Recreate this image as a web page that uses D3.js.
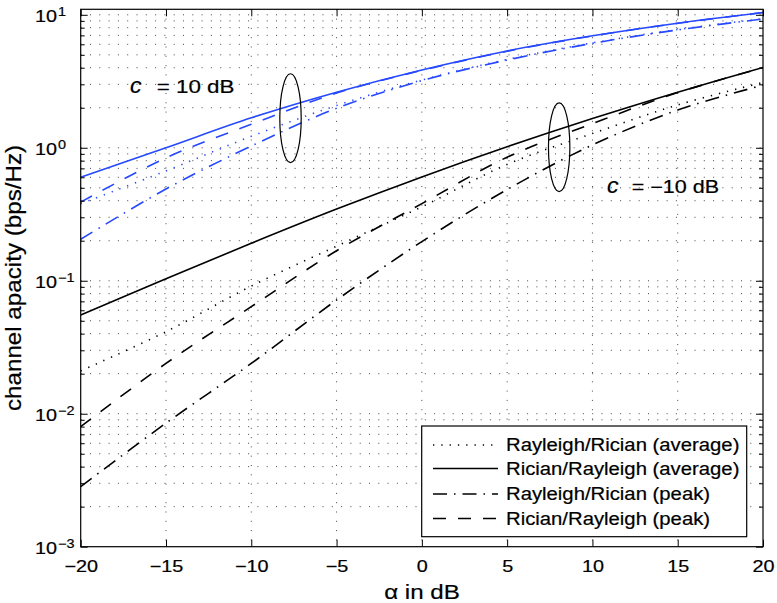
<!DOCTYPE html>
<html>
<head>
<meta charset="utf-8">
<script src="https://cdn.jsdelivr.net/npm/d3@7"></script>
<style>
  body { margin: 0; background: #fff; }
  text { font-family: "Liberation Sans", Arial, Helvetica, sans-serif; fill: #000; stroke: #000; stroke-width: 0.2px; }
</style>
</head>
<body>
<div id="viz"></div>
<script>
var alphaDb = [-20, -15, -10, -5, 0, 5, 10, 15, 20];

// c = 10 dB (blue)
var hiRayRicAvg  = [0.38, 0.67, 1.22, 2.08, 3.23, 4.62, 6.15, 7.75, 9.35];
var hiRicRayAvg  = [0.60, 1.0, 1.68, 2.62, 3.85, 5.35, 6.95, 8.65, 10.4];
var hiRayRicPeak = [0.205, 0.49, 1.03, 1.98, 3.2, 4.57, 6.1, 7.7, 9.3];
var hiRicRayPeak = [0.39, 0.84, 1.50, 2.58, 3.82, 5.32, 6.93, 8.63, 10.4];

// c = -10 dB (black)
var loRayRicAvg  = [0.021, 0.0414, 0.0912, 0.182, 0.36, 0.75, 1.28, 2.1, 3.1];
var loRicRayAvg  = [0.0552, 0.1035, 0.1914, 0.346, 0.604, 1.018, 1.66, 2.62, 4.02];
var loRayRicPeak = [0.00283, 0.0085, 0.0239, 0.0716, 0.197, 0.485, 1.05, 1.92, 2.96];
var loRicRayPeak = [0.008, 0.0239, 0.0638, 0.168, 0.38, 0.85, 1.52, 2.6, 4.0];

var legendNames = ["Rayleigh/Rician (average)", "Rician/Rayleigh (average)",
                   "Rayleigh/Rician (peak)", "Rician/Rayleigh (peak)"];
var xTicks = [-20, -15, -10, -5, 0, 5, 10, 15, 20];
var yTickExp = [-3, -2, -1, 0, 1];

var width = 777, height = 603,
    margin = {top: 9.3, right: 14, bottom: 56.3, left: 80.7},
    pw = width - margin.left - margin.right,
    ph = height - margin.top - margin.bottom;

var blue = "#2648ff";
var dashes = ["1.3,7", null, "14,7,1.5,7", "13,12"];   // same order as legendNames

var svg = d3.select("#viz").append("svg")
  .attr("width", width).attr("height", height);

var plot = svg.append("g")
  .attr("transform", `translate(${margin.left},${margin.top})`);

var x = d3.scaleLinear().domain([-20, 20]).range([0, pw]);
var y = d3.scaleLog().domain([1e-3, 11]).range([ph, 0]);

// log minor values
var majorY = yTickExp.map(e => Math.pow(10, e));
var minorY = [];
yTickExp.slice(0, -1).forEach(e => {
  for (var j = 2; j <= 9; j++) minorY.push(j * Math.pow(10, e));
});

// grid
var grid = plot.append("g").attr("stroke", "#333").attr("stroke-width", 0.9)
  .attr("stroke-dasharray", "1,8.3");
grid.selectAll(".hg").data(minorY.concat(majorY.slice(1)))
  .enter().append("line")
  .attr("x1", 0).attr("x2", pw)
  .attr("y1", d => y(d)).attr("y2", d => y(d));
grid.selectAll(".vg").data(xTicks.slice(1, -1))
  .enter().append("line")
  .attr("y1", 0).attr("y2", ph)
  .attr("x1", d => x(d)).attr("x2", d => x(d));

// curves
svg.append("clipPath").attr("id", "clip")
  .append("rect").attr("width", pw).attr("height", ph);

var line = d3.line()
  .x((d, i) => x(alphaDb[i]))
  .y(d => y(d))
  .curve(d3.curveCatmullRom.alpha(0.5));

var curves = [
  {vals: hiRayRicAvg, color: blue, k: 0},
  {vals: hiRicRayAvg, color: blue, k: 1},
  {vals: hiRayRicPeak, color: blue, k: 2},
  {vals: hiRicRayPeak, color: blue, k: 3},
  {vals: loRayRicAvg, color: "#000", k: 0},
  {vals: loRicRayAvg, color: "#000", k: 1},
  {vals: loRayRicPeak, color: "#000", k: 2},
  {vals: loRicRayPeak, color: "#000", k: 3}
];

plot.append("g").attr("clip-path", "url(#clip)")
  .selectAll("path").data(curves)
  .enter().append("path")
  .attr("d", d => line(d.vals))
  .attr("fill", "none")
  .attr("stroke", d => d.color)
  .attr("stroke-width", 1.6)
  .attr("stroke-dasharray", d => dashes[d.k]);

// ellipses around the curve groups
var rings = [{ax: -7.7, val: 1.67}, {ax: 8.05, val: 1.01}];
plot.selectAll(".ring").data(rings)
  .enter().append("ellipse")
  .attr("cx", d => x(d.ax)).attr("cy", d => y(d.val))
  .attr("rx", 10.7).attr("ry", 44.4)
  .attr("fill", "none").attr("stroke", "#000").attr("stroke-width", 1.2);

// axes (inward ticks, box)
var xAxisB = plot.append("g").attr("transform", `translate(0,${ph})`)
  .call(d3.axisBottom(x).tickValues(xTicks).tickSizeInner(-7).tickSizeOuter(0).tickPadding(14)
    .tickFormat(d => d < 0 ? "\u2212" + Math.abs(d) : d));
xAxisB.select(".domain").remove();
xAxisB.selectAll("text").attr("transform", "scale(1.2,1)")
  .style("font-size", "16.5px").style("font-family", "Liberation Sans, Arial, sans-serif");

var xAxisT = plot.append("g")
  .call(d3.axisTop(x).tickValues(xTicks).tickSizeInner(-7).tickSizeOuter(0).tickFormat(""));
xAxisT.select(".domain").remove();

[[d3.axisLeft, 0], [d3.axisRight, pw]].forEach(a => {
  var g1 = plot.append("g").attr("transform", `translate(${a[1]},0)`)
    .call(a[0](y).tickValues(majorY).tickSizeInner(-7).tickSizeOuter(0).tickFormat(""));
  g1.select(".domain").remove();
  var g2 = plot.append("g").attr("transform", `translate(${a[1]},0)`)
    .call(a[0](y).tickValues(minorY).tickSizeInner(-4).tickSizeOuter(0).tickFormat(""));
  g2.select(".domain").remove();
});

plot.append("rect").attr("width", pw).attr("height", ph)
  .attr("fill", "none").attr("stroke", "#000").attr("stroke-width", 1.2);

// y tick labels 10^k
function txt(parent, tx, ty, str, size, anchor, sx) {
  return parent.append("text")
    .attr("transform", `translate(${tx},${ty}) scale(${sx},1)`)
    .attr("text-anchor", anchor)
    .style("font-size", size + "px")
    .text(str);
}
yTickExp.forEach(e => {
  var yy = margin.top + y(Math.pow(10, e));
  txt(svg, 57, yy + 7, "10", 16.5, "end", 1.2);
  txt(svg, 58, yy + 1.5, e < 0 ? "\u2212" + Math.abs(e) : String(e), 12, "start", 1.2);
});

// axis titles
txt(svg, 422, 599, "\u03b1 in dB", 21, "middle", 1.15);
svg.append("text")
  .attr("transform", `translate(20.7,278) rotate(-90) scale(1.125,1)`)
  .attr("text-anchor", "middle").style("font-size", "21.5px")
  .text("channel apacity (bps/Hz)");

// curve group labels
txt(svg, 130, 93, "c", 22, "start", 1.05).style("font-style", "italic");
txt(svg, 156.7, 93, "= 10 dB", 17.5, "start", 1.28);
txt(svg, 607, 193, "c", 22, "start", 1.05).style("font-style", "italic");
txt(svg, 631.7, 193, "= \u221210 dB", 17.5, "start", 1.23);

// legend
var leg = svg.append("g");
leg.append("rect").attr("x", 421.7).attr("y", 426).attr("width", 325).attr("height", 110.7)
  .attr("fill", "#fff").attr("stroke", "#000").attr("stroke-width", 1.2);
var rowY = [445, 468.5, 494, 518.5];
legendNames.forEach((name, i) => {
  leg.append("line").attr("x1", 433).attr("x2", 498).attr("y1", rowY[i]).attr("y2", rowY[i])
    .attr("stroke", "#000").attr("stroke-width", 1.6).attr("stroke-dasharray", dashes[i]);
  txt(leg, 506, rowY[i] + 6.3, name, 17.5, "start", 1.16);
});
</script>
</body>
</html>
